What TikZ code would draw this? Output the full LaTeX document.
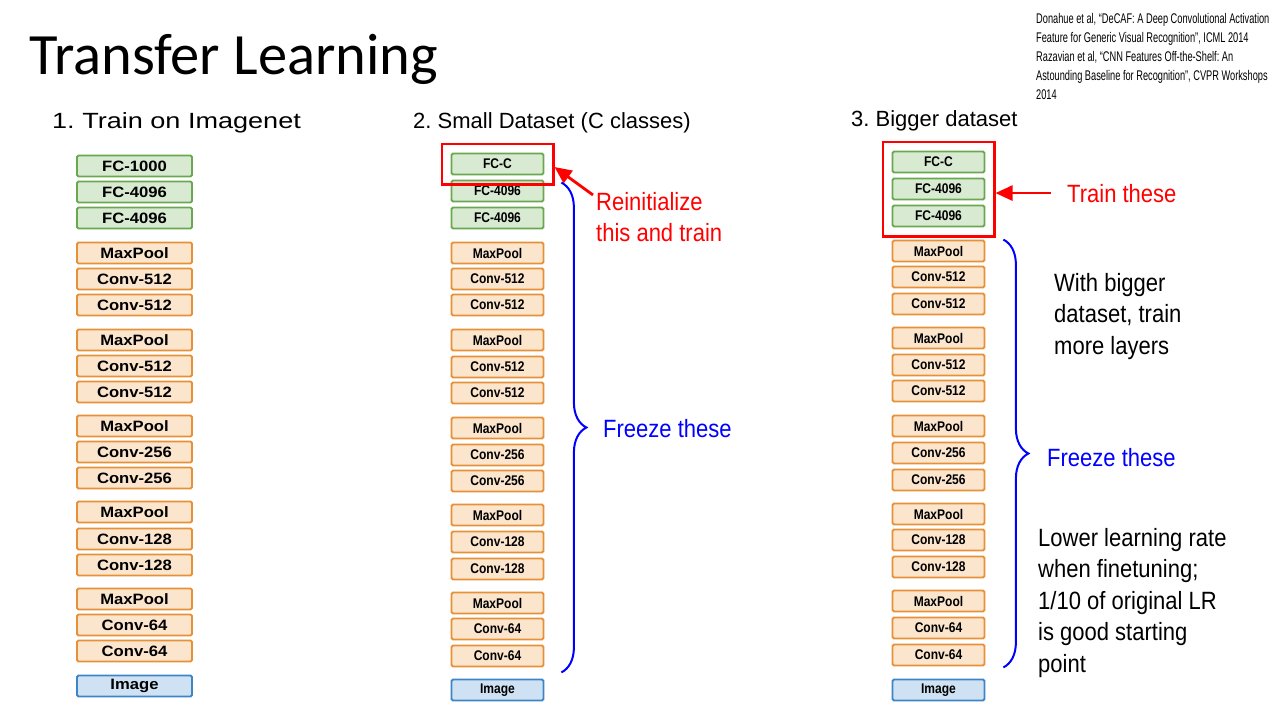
\documentclass[tikz,border=0pt]{standalone}
\usepackage{fontspec}
\setmainfont{Liberation Sans}
\newfontfamily\titlefont{Carlito}
\usepackage{graphicx}
\usepackage{tikz}
\usetikzlibrary{arrows.meta}
\usetikzlibrary{calc}
\usetikzlibrary{fit}
\usetikzlibrary{decorations.pathreplacing}

\definecolor{fcfill}{HTML}{D9EAD3}
\definecolor{fcdraw}{HTML}{6AA84F}
\definecolor{convfill}{HTML}{FCE5CD}
\definecolor{convdraw}{HTML}{E69138}
\definecolor{imgfill}{HTML}{CFE2F3}
\definecolor{imgdraw}{HTML}{3D85C6}

\newcommand{\wideLbl}[1]{\scalebox{1.11}[1]{#1}}
\newcommand{\slimLbl}[1]{\scalebox{0.86}[1]{#1}}
\newcommand{\slimText}[1]{\scalebox{0.88}[1]{#1}}
\newcommand{\refText}[1]{\scalebox{0.66}[1]{#1}}

\frenchspacing

\begin{document}
\begin{tikzpicture}[x=1pt, y=1pt,
        box_style/.style={draw, line width=1.8pt, rounded corners=1.5pt, minimum height=21pt, inner sep=0pt},
        fc_style/.style={box_style, draw=fcdraw, fill=fcfill},
        conv_style/.style={box_style, draw=convdraw, fill=convfill},
        img_style/.style={box_style, draw=imgdraw, fill=imgfill},
        wide_col/.style={minimum width=115pt, font=\fontsize{15}{15}\selectfont\bfseries},
        slim_col/.style={minimum width=92pt, font=\fontsize{14}{14}\selectfont\bfseries},
        head_style/.style={anchor=base west, inner sep=0pt, font=\fontsize{22}{22}\selectfont},
        red_box_style/.style={draw=red, line width=2.2pt, inner sep=9pt},
        red_arrow_style/.style={draw=red, line width=2.8pt, -{Triangle[length=17pt,width=15pt]}},
        brace_style/.style={draw=blue, line width=2pt, decorate, decoration={brace, amplitude=25pt}},
        side_text_style/.style={anchor=base west, inner sep=0pt, align=left, font=\fontsize{25}{31.5}\selectfont}]

        \path[use as bounding box, fill=white] (0,0) rectangle (1280,-720);

        \node[anchor=base west, inner sep=0pt, font=\titlefont\fontsize{58.5}{58.5}\selectfont] (title) at (29,-74) {Transfer Learning};

        \node[anchor=north west, inner sep=0pt, align=left, font=\fontsize{14}{19}\selectfont] (refs) at (1036,-13)
            {\refText{Donahue et al, “DeCAF: A Deep Convolutional Activation}\\
             \refText{Feature for Generic Visual Recognition”, ICML 2014}\\
             \refText{Razavian et al, “CNN Features Off-the-Shelf: An}\\
             \refText{Astounding Baseline for Recognition”, CVPR Workshops}\\
             \refText{2014}};

        % column headers
        \node[head_style] (headA) at (52,-128) {\scalebox{1.23}[1]{1. Train on Imagenet}};
        \node[head_style] (headB) at (413,-128) {2. Small Dataset (C classes)};
        \node[head_style] (headC) at (851,-126) {3. Bigger dataset};

        % 1. train on imagenet
        \foreach \kind/\lbl/\y [count=\i] in {fc_style/FC-1000/166, fc_style/FC-4096/192, fc_style/FC-4096/218,
                conv_style/MaxPool/253, conv_style/Conv-512/279, conv_style/Conv-512/305,
                conv_style/MaxPool/340, conv_style/Conv-512/366, conv_style/Conv-512/392,
                conv_style/MaxPool/426, conv_style/Conv-256/452, conv_style/Conv-256/478,
                conv_style/MaxPool/512, conv_style/Conv-128/539, conv_style/Conv-128/565,
                conv_style/MaxPool/599, conv_style/Conv-64/625, conv_style/Conv-64/651,
                img_style/Image/686}
            \node[\kind, wide_col] (a\i) at (134.5,-\y) {\wideLbl{\lbl}};

        % 2. small dataset
        \foreach \kind/\lbl/\y [count=\i] in {fc_style/FC-C/164, fc_style/FC-4096/191, fc_style/FC-4096/218,
                conv_style/MaxPool/253, conv_style/Conv-512/279, conv_style/Conv-512/305,
                conv_style/MaxPool/340, conv_style/Conv-512/367, conv_style/Conv-512/393,
                conv_style/MaxPool/428, conv_style/Conv-256/455, conv_style/Conv-256/481,
                conv_style/MaxPool/515, conv_style/Conv-128/542, conv_style/Conv-128/569,
                conv_style/MaxPool/603, conv_style/Conv-64/629, conv_style/Conv-64/656,
                img_style/Image/690}
            \node[\kind, slim_col] (b\i) at (497.5,-\y) {\slimLbl{\lbl}};

        % 3. bigger dataset
        \foreach \kind/\lbl/\y [count=\i] in {fc_style/FC-C/162, fc_style/FC-4096/189, fc_style/FC-4096/216,
                conv_style/MaxPool/251, conv_style/Conv-512/277, conv_style/Conv-512/304,
                conv_style/MaxPool/338, conv_style/Conv-512/365, conv_style/Conv-512/391,
                conv_style/MaxPool/426, conv_style/Conv-256/453, conv_style/Conv-256/480,
                conv_style/MaxPool/514, conv_style/Conv-128/540, conv_style/Conv-128/567,
                conv_style/MaxPool/601, conv_style/Conv-64/628, conv_style/Conv-64/655,
                img_style/Image/690}
            \node[\kind, slim_col] (c\i) at (938.5,-\y) {\slimLbl{\lbl}};

        % red frames
        \node[red_box_style, fit=(b1)] (redB) {};
        \node[red_box_style, fit=(c1) (c3)] (redC) {};

        % notes (base = last line)
        \node[side_text_style, text=red] (reinit) at (596,-241.5) {\slimText{Reinitialize}\\ \slimText{this and train}};
        \node[side_text_style, text=red] (train) at (1067,-202) {\slimText{Train these}};
        \node[side_text_style, text=blue] (freezeB) at (603,-437) {\slimText{Freeze these}};
        \node[side_text_style, text=blue] (freezeC) at (1047,-466) {\slimText{Freeze these}};
        \node[side_text_style] (bigger) at (1054,-354) {\slimText{With bigger}\\ \slimText{dataset, train}\\ \slimText{more layers}};
        \node[side_text_style] (lower) at (1038,-672) {\slimText{Lower learning rate}\\ \slimText{when finetuning;}\\
            \slimText{1/10 of original LR}\\ \slimText{is good starting}\\ \slimText{point}};

        \draw[red_arrow_style] ([shift={(-3,46.5)}]reinit.base west) -- ([yshift=-3pt]redB.east);
        \draw[red_arrow_style] ([xshift=-16pt]train.west) -- (train.west -| redC.east);

        % braces
        \coordinate (braceTopB) at ($(b2.north east)+(17,-3)$);
        \coordinate (braceBotB) at ($(b18.south east)+(17,-5)$);
        \coordinate (braceTopC) at ($(c4.north east)+(18,0)$);
        \coordinate (braceBotC) at ($(c18.south east)+(18,-1)$);
        \draw[brace_style] (braceTopB) -- (braceBotB);
        \draw[brace_style] (braceTopC) -- (braceBotC);

\end{tikzpicture}
\end{document}
